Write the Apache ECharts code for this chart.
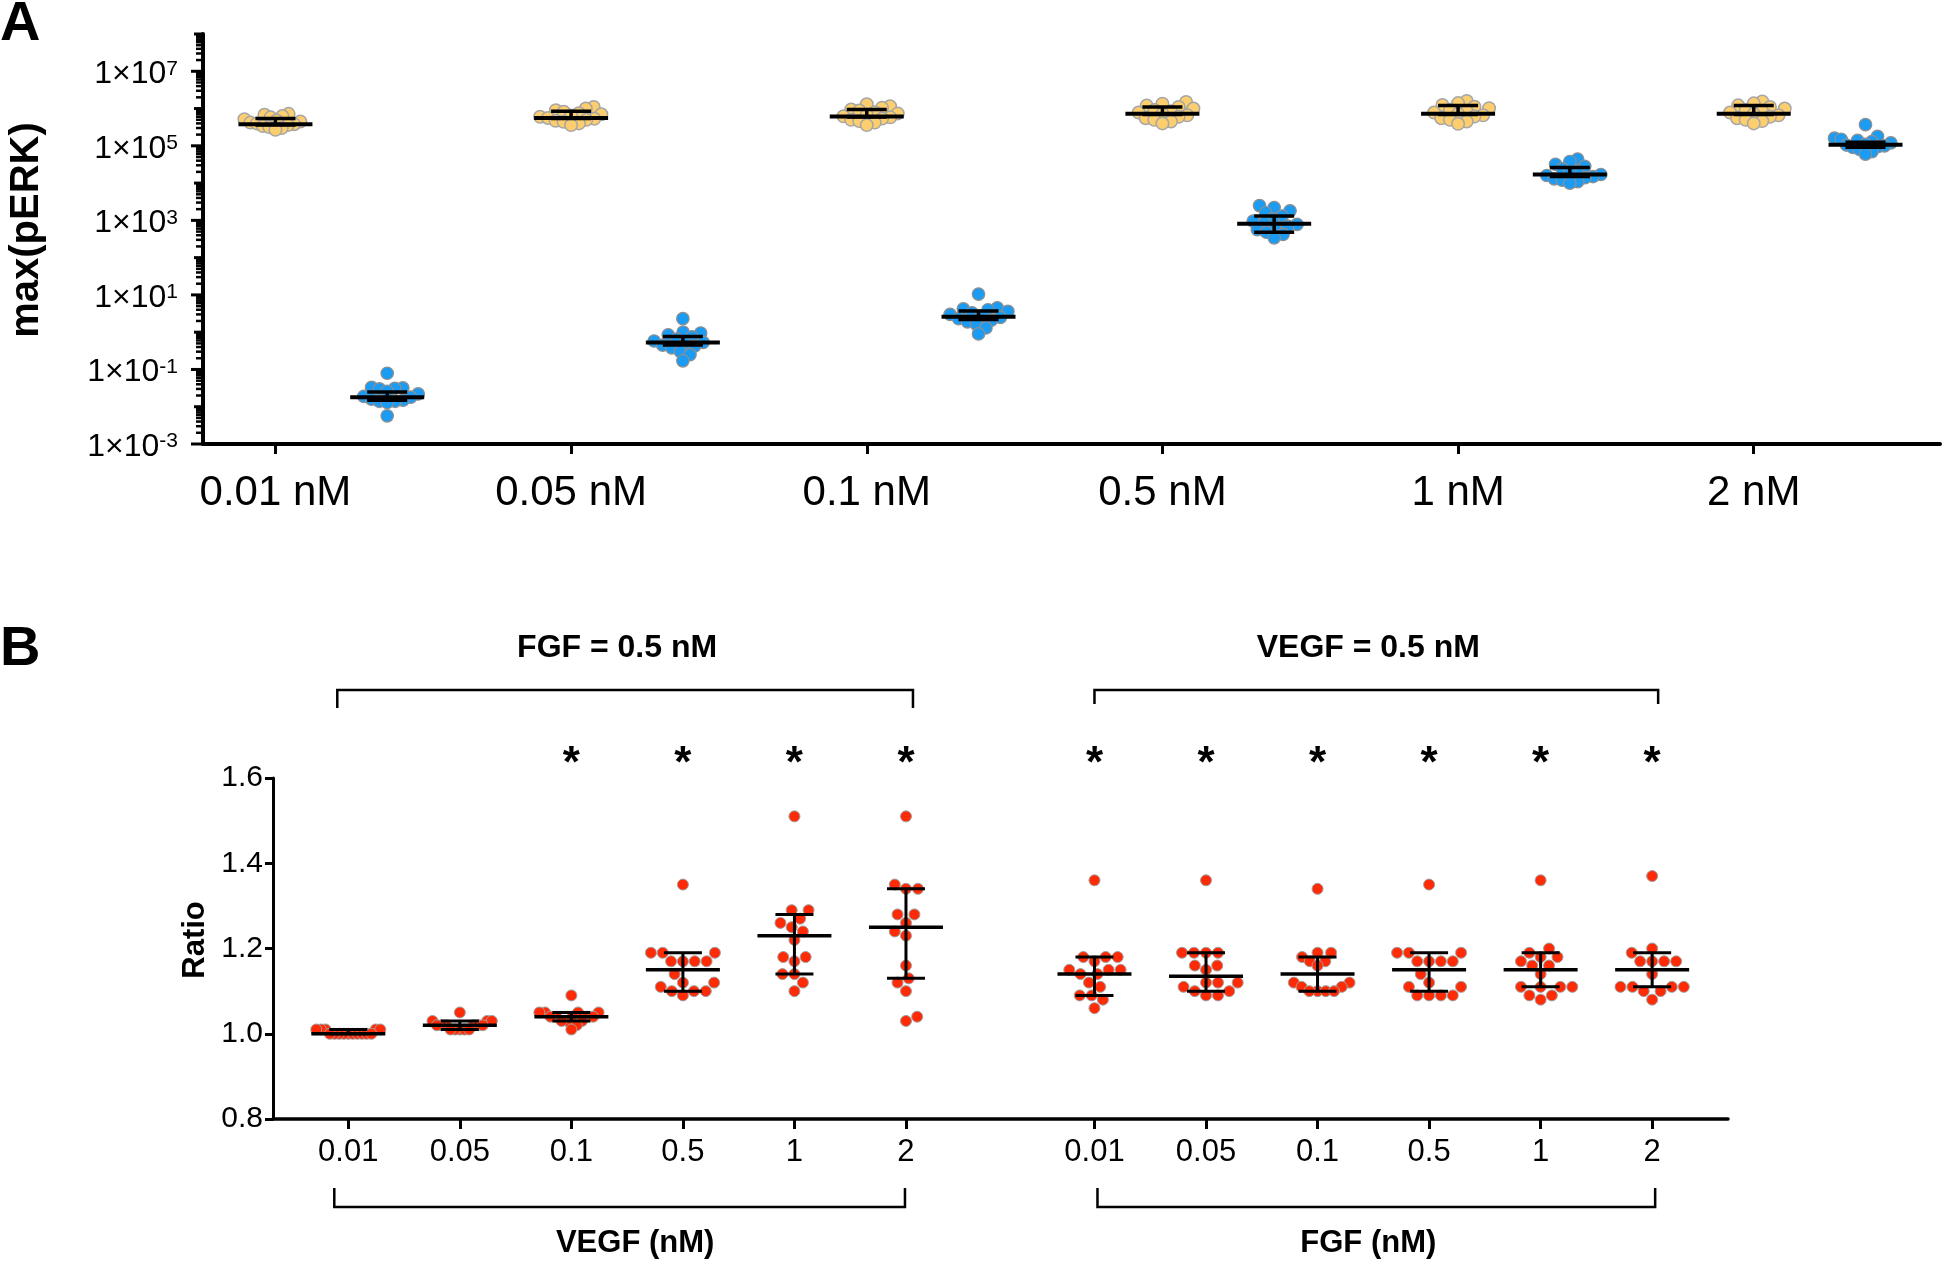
<!DOCTYPE html>
<html><head><meta charset="utf-8">
<script src="https://cdn.jsdelivr.net/npm/echarts@6/dist/echarts.min.js"></script>
<style>html,body{margin:0;padding:0;background:#fff}#c{width:1946px;height:1267px}</style>
</head><body><div id="c"></div>
<script>
// ================= DATA: panel A =================
const catsA = ['0.01 nM', '0.05 nM', '0.1 nM', '0.5 nM', '1 nM', '2 nM'];
const yTickExpA = [-3, -1, 1, 3, 5, 7];
const yellowVals = [
  [7.2e5, 6.8e5, 6.3e5, 5.8e5, 5.2e5, 4.8e5, 4.5e5, 4.2e5, 4.0e5, 3.8e5, 3.6e5, 3.4e5, 3.2e5, 3.0e5, 2.7e5],
  [1.1e6, 1.0e6, 9.0e5, 8.2e5, 7.5e5, 7.0e5, 6.5e5, 6.0e5, 5.6e5, 5.3e5, 5.0e5, 4.7e5, 4.4e5, 4.0e5, 3.6e5],
  [1.3e6, 1.15e6, 1.05e6, 9.5e5, 8.8e5, 8.0e5, 7.4e5, 6.8e5, 6.2e5, 5.8e5, 5.4e5, 5.0e5, 4.6e5, 4.2e5, 3.6e5],
  [1.5e6, 1.35e6, 1.2e6, 1.1e6, 1.0e6, 9.2e5, 8.5e5, 7.8e5, 7.2e5, 6.6e5, 6.0e5, 5.5e5, 5.0e5, 4.5e5, 4.0e5],
  [1.6e6, 1.4e6, 1.25e6, 1.12e6, 1.02e6, 9.3e5, 8.5e5, 7.8e5, 7.2e5, 6.6e5, 6.1e5, 5.5e5, 5.0e5, 4.5e5, 3.9e5],
  [1.55e6, 1.38e6, 1.22e6, 1.1e6, 1.0e6, 9.2e5, 8.5e5, 7.8e5, 7.2e5, 6.6e5, 6.0e5, 5.5e5, 5.0e5, 4.6e5, 4.0e5]
];
const yellowMed = [3.8e5, 5.6e5, 6.1e5, 7.2e5, 7.2e5, 7.2e5];
const yellowLo  = [3.6e5, 5.4e5, 5.9e5, 6.9e5, 6.9e5, 6.9e5];
const yellowHi  = [5.4e5, 8.4e5, 9.4e5, 1.1e6, 1.2e6, 1.2e6];
const blueVals = [
  [0.079, 0.033, 0.032, 0.031, 0.030, 0.026, 0.022, 0.019, 0.018, 0.016, 0.015, 0.014, 0.014, 0.013, 0.0057],
  [2.3, 1.0, 0.95, 0.85, 0.75, 0.65, 0.58, 0.53, 0.5, 0.45, 0.42, 0.38, 0.3, 0.25, 0.17],
  [10.5, 4.5, 4.2, 4.0, 3.6, 3.3, 3.0, 2.7, 2.5, 2.3, 2.1, 1.9, 1.6, 1.3, 0.9],
  [2500, 2200, 1800, 1600, 1300, 1100, 950, 850, 780, 700, 620, 560, 480, 420, 340],
  [4.4e4, 3.8e4, 3.2e4, 2.8e4, 2.4e4, 2.1e4, 1.9e4, 1.7e4, 1.6e4, 1.5e4, 1.4e4, 1.3e4, 1.2e4, 1.1e4, 1.0e4],
  [3.7e5, 1.8e5, 1.6e5, 1.5e5, 1.4e5, 1.3e5, 1.2e5, 1.1e5, 1.05e5, 1.0e5, 9.5e4, 9.0e4, 8.0e4, 7.0e4, 6.0e4]
];
const blueMed = [0.018, 0.53, 2.6, 810, 1.7e4, 1.07e5];
const blueLo  = [0.015, 0.45, 2.2, 480, 1.5e4, 9.2e4];
const blueHi  = [0.025, 0.77, 3.7, 1300, 2.6e4, 1.25e5];

// ================= DATA: panel B =================
const catsB = ['0.01', '0.05', '0.1', '0.5', '1', '2', '0.01', '0.05', '0.1', '0.5', '1', '2'];
const yTicksB = [0.8, 1.0, 1.2, 1.4, 1.6];
const ratioVals = [
  [1.01, 1.00, 1.00, 1.01, 1.00, 1.00, 1.01, 1.00, 1.00, 1.01, 1.00, 1.00, 1.01, 1.00, 1.00],
  [1.05, 1.03, 1.03, 1.03, 1.02, 1.02, 1.02, 1.02, 1.02, 1.02, 1.01, 1.01, 1.01, 1.01, 1.01],
  [1.09, 1.05, 1.05, 1.05, 1.05, 1.04, 1.04, 1.04, 1.04, 1.04, 1.03, 1.03, 1.03, 1.02, 1.01],
  [1.35, 1.19, 1.19, 1.19, 1.17, 1.17, 1.17, 1.17, 1.14, 1.12, 1.12, 1.11, 1.10, 1.10, 1.10, 1.09],
  [1.51, 1.29, 1.29, 1.27, 1.26, 1.25, 1.24, 1.22, 1.18, 1.18, 1.17, 1.14, 1.14, 1.12, 1.10],
  [1.51, 1.35, 1.34, 1.34, 1.28, 1.28, 1.26, 1.24, 1.23, 1.16, 1.13, 1.12, 1.10, 1.04, 1.03],
  [1.36, 1.18, 1.18, 1.18, 1.17, 1.15, 1.15, 1.15, 1.14, 1.14, 1.12, 1.11, 1.09, 1.09, 1.08, 1.06],
  [1.36, 1.19, 1.19, 1.19, 1.19, 1.16, 1.16, 1.15, 1.12, 1.12, 1.12, 1.11, 1.10, 1.10, 1.09, 1.09],
  [1.34, 1.19, 1.19, 1.18, 1.17, 1.17, 1.16, 1.12, 1.12, 1.11, 1.11, 1.10, 1.10, 1.10, 1.10],
  [1.35, 1.19, 1.19, 1.19, 1.17, 1.17, 1.17, 1.17, 1.14, 1.12, 1.11, 1.11, 1.09, 1.09, 1.09, 1.09],
  [1.36, 1.20, 1.19, 1.18, 1.18, 1.17, 1.16, 1.16, 1.14, 1.11, 1.11, 1.11, 1.11, 1.09, 1.09, 1.08],
  [1.37, 1.20, 1.19, 1.17, 1.17, 1.17, 1.17, 1.14, 1.11, 1.11, 1.11, 1.11, 1.10, 1.10, 1.08]
];
const ratioMed = [1.00, 1.02, 1.04, 1.15, 1.23, 1.25, 1.14, 1.135, 1.14, 1.15, 1.15, 1.15];
const ratioLo  = [1.00, 1.01, 1.03, 1.10, 1.14, 1.13, 1.09, 1.10, 1.10, 1.10, 1.11, 1.11];
const ratioHi  = [1.01, 1.03, 1.05, 1.19, 1.28, 1.34, 1.18, 1.19, 1.18, 1.19, 1.19, 1.19];
const sigB = [false, false, true, true, true, true, true, true, true, true, true, true];
const bracketTitles = ['FGF = 0.5 nM', 'VEGF = 0.5 nM'];
const axisGroupTitles = ['VEGF (nM)', 'FGF (nM)'];

// ================= LAYOUT =================
const FONT = '"Liberation Sans", Arial, Helvetica, sans-serif';
const GA = { left: 203, top: 34, width: 1737, height: 410 };
const xMinA = -0.245, xMaxA = 5.63, BLUE_OFF = 0.378;
const GB = { left: 273, top: 778, width: 1455, height: 341 };
const xMinB = -0.675, xMaxB = 12.37, GAP_B = 0.69;
const posB = catsB.map((c, i) => i < 6 ? i : i + GAP_B);

const unitPxA = GA.width / (xMaxA - xMinA);
const decPxA = GA.height / 11;
const unitPxB = GB.width / (xMaxB - xMinB);
const yPxB = GB.height / 0.8;

// simple deterministic beeswarm (pixel space)
function swarm(ys, minDist, maxHalf) {
  const order = ys.map((y, i) => i).sort((a, b) => ys[a] - ys[b]);
  const placed = [];
  const xs = new Array(ys.length).fill(0);
  let balance = 0;
  for (const i of order) {
    const y = ys[i];
    const ivs = [];
    for (const p of placed) {
      const dy = Math.abs(p.y - y);
      if (dy < minDist) {
        const dx = Math.sqrt(minDist * minDist - dy * dy);
        ivs.push([p.x - dx, p.x + dx]);
      }
    }
    const cands = [0];
    ivs.forEach(v => cands.push(v[0], v[1]));
    const valid = cands.filter(c => ivs.every(v => c <= v[0] + 1e-6 || c >= v[1] - 1e-6));
    valid.sort((a, b) => (Math.abs(a) - Math.abs(b)) || (balance > 0 ? a - b : b - a));
    const x = valid[0];
    balance += Math.sign(x);
    placed.push({ x, y });
    xs[i] = x;
  }
  const m = Math.max(...xs.map(Math.abs));
  if (m > maxHalf) for (let k = 0; k < xs.length; k++) xs[k] *= maxHalf / m;
  return xs;
}

function buildA(vals, shift) {
  const out = [];
  vals.forEach((arr, g) => {
    const offs = swarm(arr.map(v => Math.log10(v) * decPxA), 9.5, 31);
    arr.forEach((v, k) => out.push([g + shift + offs[k] / unitPxA, v]));
  });
  return out;
}
const yellowPts = buildA(yellowVals, 0);
const bluePts = buildA(blueVals, BLUE_OFF);

const redPts = [];
ratioVals.forEach((arr, g) => {
  const offs = swarm(arr.map(v => v * yPxB), 12, 32);
  arr.forEach((v, k) => redPts.push([posB[g] + offs[k] / unitPxB, v]));
});

const statsA = [];
catsA.forEach((c, i) => {
  statsA.push([i, yellowMed[i], yellowLo[i], yellowHi[i]]);
  statsA.push([i + BLUE_OFF, blueMed[i], blueLo[i], blueHi[i]]);
});
const statsB = posB.map((p, i) => [p, ratioMed[i], ratioLo[i], ratioHi[i]]);

// log-axis ticks for panel A
const ticksA = [];
for (let e = -3; e <= 7; e++) {
  ticksA.push([xMinA, Math.pow(10, e), yTickExpA.includes(e) ? 12 : 9, 3]);
  for (let k = 2; k <= 9; k++) ticksA.push([xMinA, k * Math.pow(10, e), 7, 2.5]);
}
ticksA.push([xMinA, 1e8, 9, 3]);
const labelsA = yTickExpA.map(e => [xMinA, Math.pow(10, e), e]);
const starsB = posB.map((p, i) => [p, 1.6, sigB[i] ? 1 : 0]).filter(d => d[2]);

function statRender(hw, hc, wm, wc) {
  return function (params, api) {
    const x = api.value(0);
    const pm = api.coord([x, api.value(1)]);
    const pl = api.coord([x, api.value(2)]);
    const ph = api.coord([x, api.value(3)]);
    const st = w => ({ stroke: '#000', lineWidth: w });
    return {
      type: 'group', children: [
        { type: 'line', shape: { x1: pl[0], y1: pl[1], x2: ph[0], y2: ph[1] }, style: st(wc) },
        { type: 'line', shape: { x1: pl[0] - hc, y1: pl[1], x2: pl[0] + hc, y2: pl[1] }, style: st(wc) },
        { type: 'line', shape: { x1: ph[0] - hc, y1: ph[1], x2: ph[0] + hc, y2: ph[1] }, style: st(wc) },
        { type: 'line', shape: { x1: pm[0] - hw, y1: pm[1], x2: pm[0] + hw, y2: pm[1] }, style: st(wm) }
      ]
    };
  };
}

const chart = echarts.init(document.getElementById('c'), null, { renderer: 'canvas' });
const option = {
  animation: false,
  backgroundColor: '#ffffff',
  textStyle: { fontFamily: FONT },
  grid: [
    Object.assign({ containLabel: false, outerBoundsMode: 'none' }, GA),
    Object.assign({ containLabel: false, outerBoundsMode: 'none' }, GB)
  ],
  xAxis: [
    {
      gridIndex: 0, type: 'value', min: xMinA, max: xMaxA,
      axisLine: { show: true, onZero: false, lineStyle: { color: '#000', width: 4 } },
      axisTick: { show: true, customValues: [0, 1, 2, 3, 4, 5], length: 10, lineStyle: { color: '#000', width: 3 } },
      axisLabel: { show: true, customValues: [0, 1, 2, 3, 4, 5], margin: 28, color: '#000', fontSize: 42, fontFamily: FONT,
        formatter: v => catsA[Math.round(v)] },
      splitLine: { show: false }
    },
    {
      gridIndex: 1, type: 'value', min: xMinB, max: xMaxB,
      axisLine: { show: true, onZero: false, lineStyle: { color: '#000', width: 3.5 } },
      axisTick: { show: true, customValues: posB, length: 10, lineStyle: { color: '#000', width: 3 } },
      axisLabel: { show: true, customValues: posB, margin: 18, color: '#000', fontSize: 31, fontFamily: FONT,
        formatter: v => { const i = posB.findIndex(p => Math.abs(p - v) < 1e-6); return i >= 0 ? catsB[i] : ''; } },
      splitLine: { show: false }
    }
  ],
  yAxis: [
    {
      gridIndex: 0, type: 'log', logBase: 10, min: 1e-3, max: 1e8,
      axisLine: { show: true, onZero: false, lineStyle: { color: '#000', width: 4 } },
      axisTick: { show: false }, axisLabel: { show: false }, splitLine: { show: false }, minorTick: { show: false }
    },
    {
      gridIndex: 1, type: 'value', min: yTicksB[0], max: yTicksB[yTicksB.length - 1], interval: 0.2,
      axisLine: { show: true, onZero: false, lineStyle: { color: '#000', width: 3 } },
      axisTick: { show: true, length: 8, lineStyle: { color: '#000', width: 3 } },
      axisLabel: { show: true, margin: 10, color: '#000', fontSize: 30, fontFamily: FONT, formatter: v => v.toFixed(1) },
      splitLine: { show: false }
    }
  ],
  series: [
    { type: 'scatter', name: 'FGF', xAxisIndex: 0, yAxisIndex: 0, data: yellowPts, symbolSize: 12.5, z: 2,
      itemStyle: { color: '#FCCE6E', borderColor: '#a6a6a6', borderWidth: 1.5, opacity: 1 } },
    { type: 'scatter', name: 'VEGF', xAxisIndex: 0, yAxisIndex: 0, data: bluePts, symbolSize: 12.5, z: 2,
      itemStyle: { color: '#1B9BF2', borderColor: '#8f8f8f', borderWidth: 1.2, opacity: 1 } },
    { type: 'custom', xAxisIndex: 0, yAxisIndex: 0, data: statsA, z: 5, silent: true, clip: false,
      renderItem: statRender(37, 20, 4, 3.5) },
    { type: 'custom', xAxisIndex: 0, yAxisIndex: 0, data: ticksA, z: 5, silent: true, clip: false,
      renderItem: (params, api) => {
        const p = api.coord([api.value(0), api.value(1)]);
        const len = api.value(2);
        return { type: 'line', shape: { x1: p[0] - len, y1: p[1], x2: p[0], y2: p[1] },
          style: { stroke: '#000', lineWidth: api.value(3) } };
      } },
    { type: 'custom', xAxisIndex: 0, yAxisIndex: 0, data: labelsA, z: 5, silent: true, clip: false,
      renderItem: (params, api) => {
        const p = api.coord([api.value(0), api.value(1)]);
        const e = api.value(2);
        return { type: 'text', x: p[0] - 25, y: p[1] + 3,
          style: { text: '{m|1×10}{s|' + e + '}', align: 'right', verticalAlign: 'middle', fill: '#000',
            rich: {
              m: { fontSize: 32, fontFamily: FONT, lineHeight: 32, padding: [11, 0, 0, 0], verticalAlign: 'bottom', fill: '#000' },
              s: { fontSize: 21, fontFamily: FONT, lineHeight: 21, verticalAlign: 'top', fill: '#000' }
            } } };
      } },
    { type: 'scatter', name: 'Ratio', xAxisIndex: 1, yAxisIndex: 1, data: redPts, symbolSize: 11, z: 2,
      itemStyle: { color: '#FF2B06', borderColor: '#a0a0a0', borderWidth: 1, opacity: 1 } },
    { type: 'custom', xAxisIndex: 1, yAxisIndex: 1, data: statsB, z: 5, silent: true, clip: false,
      renderItem: statRender(37, 19, 3.5, 3) },
    { type: 'custom', xAxisIndex: 1, yAxisIndex: 1, data: starsB, z: 5, silent: true, clip: false,
      renderItem: (params, api) => {
        const p = api.coord([api.value(0), api.value(1)]);
        return { type: 'text', x: p[0], y: p[1] - 13,
          style: { text: '*', align: 'center', verticalAlign: 'middle', fill: '#000',
            font: 'bold 44px ' + FONT } };
      } }
  ]
};
chart.setOption(option);

// annotation graphics positioned from the axes
const bx = v => chart.convertToPixel({ xAxisIndex: 1 }, v);
const x0 = bx(posB[0]), x5 = bx(posB[5]), x6 = bx(posB[6]), x11 = bx(posB[11]);
const lineSt = { stroke: '#000', lineWidth: 2.5, fill: null };
const T = (text, x, y, size, bold, rot, align) => ({
  type: 'text', x, y, rotation: rot || 0,
  style: { text, font: (bold ? 'bold ' : '') + size + 'px ' + FONT, fill: '#000', align: align || 'center', verticalAlign: 'middle' }
});
chart.setOption({
  graphic: [
    T('A', 0, 25, 56, true, 0, 'left'),
    T('B', 0, 650, 56, true, 0, 'left'),
    T('max(pERK)', 27, 230, 40, true, Math.PI / 2),
    T('Ratio', 195, 940, 31, true, Math.PI / 2),
    T(bracketTitles[0], (x0 + x5) / 2 - 10, 648, 32, true),
    T(bracketTitles[1], (x6 + x11) / 2 - 5, 648, 32, true),
    { type: 'polyline', shape: { points: [[x0 - 11, 708], [x0 - 11, 690], [x5 + 7, 690], [x5 + 7, 708]] }, style: lineSt },
    { type: 'polyline', shape: { points: [[x6, 704], [x6, 690], [x11 + 6, 690], [x11 + 6, 704]] }, style: lineSt },
    { type: 'polyline', shape: { points: [[x0 - 14, 1188], [x0 - 14, 1207], [x5 - 1, 1207], [x5 - 1, 1188]] }, style: lineSt },
    { type: 'polyline', shape: { points: [[x6 + 3, 1188], [x6 + 3, 1207], [x11 + 3, 1207], [x11 + 3, 1188]] }, style: lineSt },
    T(axisGroupTitles[0], (x0 + x5) / 2 + 8, 1243, 31, true),
    T(axisGroupTitles[1], (x6 + x11) / 2 - 5, 1243, 31, true)
  ]
});
</script>
</body></html>
